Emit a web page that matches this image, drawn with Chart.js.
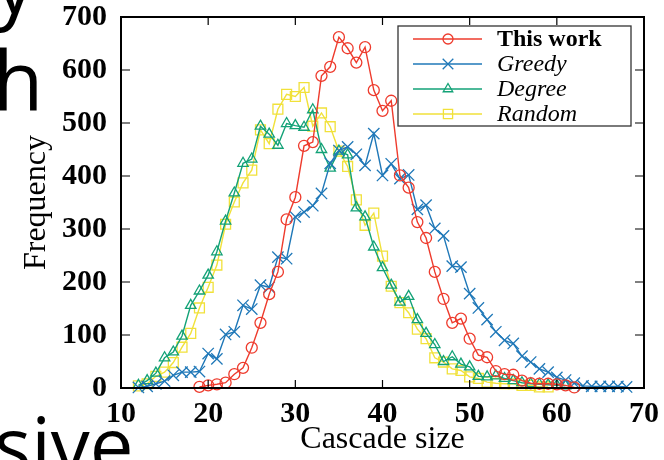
<!DOCTYPE html>
<html>
<head>
<meta charset="utf-8">
<script src="https://cdn.jsdelivr.net/npm/chart.js@4.4.1/dist/chart.umd.min.js"></script>
<style>
  body { margin: 0; background: #fff; }
  #wrap { position: relative; width: 664px; height: 460px; overflow: hidden; }
  .frag { position: absolute; font-family: "Open Sans", sans-serif; line-height: 1; color: #000; white-space: nowrap; }
  canvas { position: absolute; left: 0; top: 0; }
</style>
</head>
<body>
<div id="wrap">
  <div class="frag" style="left:-6px; top:-60px; font-size:82px;">y</div>
  <div class="frag" style="left:-7px; top:37px; font-size:82px;">h</div>
  <div class="frag" style="left:-6px; top:405px; font-size:78px;">sive</div>
  <canvas id="cascadeChart" width="664" height="460"></canvas>
</div>
<script>
// cascade sizes start at these values and go up by one per entry
const thisWorkStart = 19;
const greedyStart = 12;
const degreeStart = 12;
const randomStart = 12;

const thisWork = [2, 5, 7, 10, 26, 38, 76, 123, 177, 219, 318, 360, 457, 464, 589, 606, 662, 641, 614, 643,
  562, 523, 542, 401, 378, 313, 283, 219, 168, 123, 131, 93, 62, 58, 32, 26, 25, 14, 9, 8, 8, 7, 5, 1];
const greedy = [1, 3, 8, 13, 24, 30, 30, 31, 65, 55, 101, 106, 156, 149, 194, 190, 247, 244, 323, 332,
  344, 367, 424, 448, 455, 441, 420, 480, 401, 423, 395, 402, 337, 345, 301, 287, 230, 228, 178, 151,
  129, 106, 90, 84, 60, 49, 36, 30, 20, 15, 9, 4, 3, 3, 3, 3, 2];
const degree = [5, 14, 28, 57, 68, 98, 156, 183, 213, 257, 315, 368, 424, 432, 494, 479, 458, 499, 495, 492,
  525, 450, 415, 447, 440, 340, 323, 266, 227, 194, 162, 173, 129, 103, 82, 50, 59, 45, 40, 22,
  21, 23, 18, 14, 10, 8, 7, 6, 5, 4];
const random = [4, 8, 22, 30, 48, 77, 103, 151, 190, 232, 309, 351, 387, 411, 487, 461, 526, 554, 550, 567,
  494, 519, 493, 447, 418, 355, 307, 330, 249, 192, 161, 142, 111, 93, 57, 49, 36, 33, 21, 18,
  11, 9, 8, 8, 5, 5, 2, 2];

const xTicks = [10, 20, 30, 40, 50, 60, 70];
const yTicks = [0, 100, 200, 300, 400, 500, 600, 700];
const seriesNames = ['This work', 'Greedy', 'Degree', 'Random'];
const seriesColors = ['#ee3b2d', '#1f78b8', '#13a277', '#f1e13a'];
const seriesMarkers = ['circle', 'crossRot', 'triangle', 'rect'];

function toPoints(start, values) {
  return values.map((v, i) => ({ x: start + i, y: v }));
}

const serif = 'Liberation Serif';

function makeSet(idx, start, values, radius) {
  return {
    label: seriesNames[idx],
    data: toPoints(start, values),
    borderColor: seriesColors[idx],
    borderWidth: 1.4,
    pointStyle: seriesMarkers[idx],
    pointRadius: radius,
    pointBorderWidth: 1.3,
    pointBorderColor: seriesColors[idx],
    pointBackgroundColor: 'rgba(0,0,0,0)',
    tension: 0,
    clip: false
  };
}

// inner ticks, frame and the boxed legend
const framePlugin = {
  id: 'frame',
  afterDraw(chart) {
    const ctx = chart.ctx;
    const a = chart.chartArea;
    const xs = chart.scales.x, ys = chart.scales.y;
    ctx.save();
    ctx.strokeStyle = '#000';
    ctx.lineWidth = 1.2;
    ctx.beginPath();
    xTicks.slice(1, -1).forEach(t => {
      const px = xs.getPixelForValue(t);
      ctx.moveTo(px, a.bottom); ctx.lineTo(px, a.bottom - 8);
      ctx.moveTo(px, a.top); ctx.lineTo(px, a.top + 8);
    });
    yTicks.slice(1, -1).forEach(t => {
      const py = ys.getPixelForValue(t);
      ctx.moveTo(a.left, py); ctx.lineTo(a.left + 9, py);
      ctx.moveTo(a.right, py); ctx.lineTo(a.right - 9, py);
    });
    ctx.stroke();
    ctx.lineWidth = 2;
    ctx.strokeRect(a.left, a.top, a.right - a.left, a.bottom - a.top);

    // legend
    const lx = a.right - 246, ly = a.top + 9;
    ctx.lineWidth = 1.3;
    ctx.strokeStyle = '#333';
    ctx.fillStyle = '#fff';
    ctx.fillRect(lx, ly, 233, 100);
    ctx.strokeRect(lx, ly, 233, 100);
    chart.data.datasets.forEach((ds, i) => {
      const y = ly + 13 + i * 25;
      ctx.strokeStyle = ds.borderColor;
      ctx.lineWidth = 1.5;
      ctx.beginPath();
      ctx.moveTo(lx + 15, y); ctx.lineTo(lx + 84, y);
      ctx.stroke();
      ctx.lineWidth = 1.3;
      ctx.fillStyle = 'rgba(0,0,0,0)';
      Chart.helpers.drawPoint(ctx, { pointStyle: ds.pointStyle, radius: ds.pointRadius - 0.5, rotation: 0, borderWidth: 1.3 }, lx + 50, y);
      ctx.fillStyle = '#000';
      ctx.textBaseline = 'middle';
      ctx.font = (i === 0 ? 'bold ' : 'italic ') + '24px "' + serif + '"';
      ctx.fillText(ds.label, lx + 99, y + 1);
    });
    ctx.restore();
  }
};

const ctx = document.getElementById('cascadeChart').getContext('2d');
const cascadeChart = new Chart(ctx, {
  type: 'line',
  data: {
    datasets: [
      makeSet(0, thisWorkStart, thisWork, 5.5),
      makeSet(1, greedyStart, greedy, 8),
      makeSet(2, degreeStart, degree, 6),
      makeSet(3, randomStart, random, 7)
    ]
  },
  options: {
    responsive: false,
    animation: false,
    devicePixelRatio: 1,
    layout: { padding: { top: 17, right: 20, left: 0, bottom: 0 } },
    plugins: {
      legend: { display: false },
      tooltip: { enabled: false }
    },
    scales: {
      x: {
        type: 'linear',
        min: 10,
        max: 70,
        afterBuildTicks: s => { s.ticks = xTicks.map(v => ({ value: v })); },
        afterFit: s => { s.height = 72; s.paddingLeft = 0; s.paddingRight = 0; },
        grid: { display: false, drawTicks: false },
        border: { display: false },
        ticks: { color: '#000', padding: 8, maxRotation: 0, font: { family: serif, size: 30, weight: 'bold' } },
        title: { display: true, text: 'Cascade size', color: '#000', padding: { top: 0, bottom: 1 }, font: { family: serif, size: 32 } }
      },
      y: {
        min: 0,
        max: 700,
        afterBuildTicks: s => { s.ticks = yTicks.map(v => ({ value: v })); },
        afterFit: s => { s.width = 121; s.paddingTop = 0; s.paddingBottom = 0; },
        grid: { display: false, drawTicks: false },
        border: { display: false },
        ticks: { color: '#000', padding: 14, font: { family: serif, size: 30, weight: 'bold' } },
        title: { display: true, text: 'Frequency', color: '#000', padding: { top: 17, bottom: 0 }, font: { family: serif, size: 32 } }
      }
    }
  },
  plugins: [framePlugin]
});
</script>
</body>
</html>
